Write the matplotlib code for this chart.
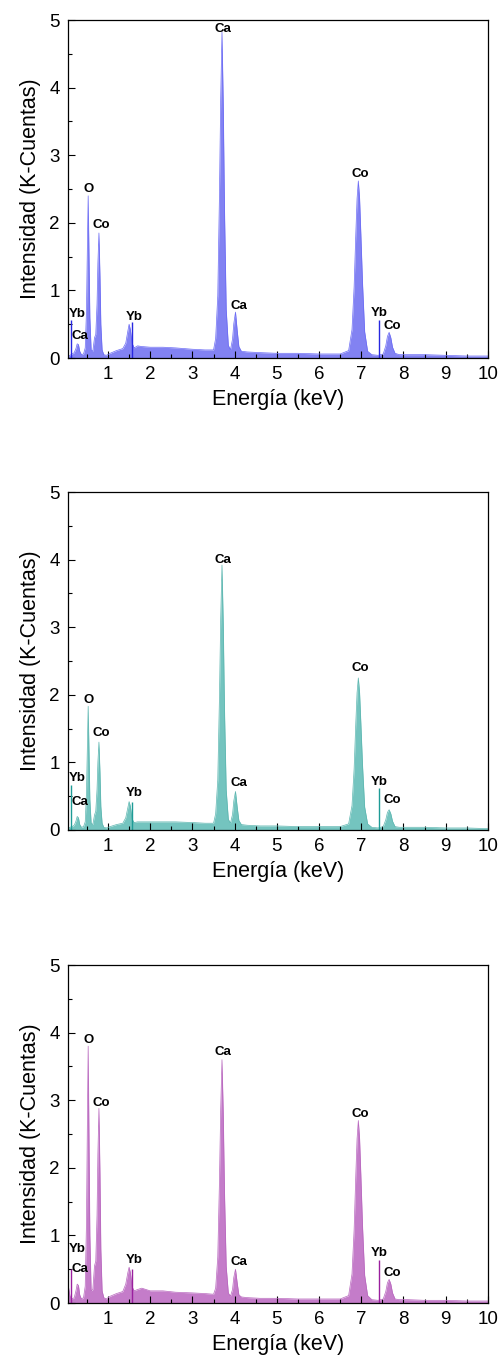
import matplotlib
matplotlib.use('Agg')
import matplotlib.pyplot as plt
from matplotlib.ticker import MultipleLocator

plt.rcParams['font.family'] = ['Liberation Sans', 'DejaVu Sans']

# energy grid (keV), shared by the three spectra
energy = [0.06, 0.10, 0.15, 0.20, 0.24, 0.27, 0.30, 0.33, 0.37, 0.42,
          0.46, 0.49, 0.51, 0.53, 0.55, 0.57, 0.60, 0.64, 0.68, 0.71,
          0.74, 0.76, 0.785, 0.81, 0.83, 0.86, 0.90, 0.96, 1.05, 1.20,
          1.35, 1.42, 1.47, 1.50, 1.53, 1.57, 1.62, 1.70, 1.80, 2.00,
          2.30, 2.60, 3.00, 3.30, 3.50, 3.55, 3.60, 3.64, 3.67, 3.70,
          3.73, 3.76, 3.80, 3.85, 3.90, 3.95, 3.98, 4.02, 4.06, 4.10,
          4.16, 4.30, 4.60, 5.00, 5.50, 6.00, 6.50, 6.70, 6.78, 6.83,
          6.87, 6.90, 6.93, 6.96, 6.99, 7.03, 7.08, 7.15, 7.25, 7.40,
          7.52, 7.58, 7.62, 7.66, 7.70, 7.74, 7.80, 7.90, 8.10, 8.50,
          9.00, 9.50, 10.00]

# intensity, K-counts
counts_a = [0.03, 0.04, 0.06, 0.08, 0.14, 0.21, 0.20, 0.10, 0.05, 0.06,
            0.15, 0.70, 1.60, 2.40, 1.50, 0.60, 0.12, 0.10, 0.30, 0.35,
            0.80, 1.40, 1.85, 1.20, 0.50, 0.12, 0.05, 0.04, 0.07, 0.11,
            0.14, 0.22, 0.40, 0.50, 0.42, 0.22, 0.15, 0.18, 0.17, 0.16,
            0.16, 0.15, 0.13, 0.12, 0.12, 0.29, 0.92, 2.41, 3.86, 4.82,
            3.76, 2.17, 0.72, 0.19, 0.12, 0.28, 0.51, 0.68, 0.41, 0.17,
            0.10, 0.09, 0.08, 0.07, 0.07, 0.06, 0.06, 0.11, 0.42, 1.05,
            1.83, 2.36, 2.62, 2.36, 1.83, 1.10, 0.39, 0.10, 0.05, 0.04,
            0.06, 0.18, 0.32, 0.38, 0.30, 0.16, 0.07, 0.05, 0.05, 0.05,
            0.04, 0.03, 0.03]

counts_b = [0.03, 0.04, 0.05, 0.07, 0.13, 0.20, 0.18, 0.08, 0.04, 0.05,
            0.12, 0.55, 1.20, 1.83, 1.15, 0.45, 0.10, 0.08, 0.22, 0.28,
            0.60, 1.00, 1.30, 0.85, 0.35, 0.10, 0.04, 0.03, 0.05, 0.08,
            0.10, 0.18, 0.33, 0.42, 0.35, 0.16, 0.11, 0.12, 0.12, 0.12,
            0.12, 0.12, 0.11, 0.10, 0.10, 0.24, 0.74, 1.96, 3.14, 3.92,
            3.06, 1.76, 0.59, 0.16, 0.10, 0.23, 0.43, 0.57, 0.34, 0.14,
            0.08, 0.07, 0.06, 0.06, 0.05, 0.05, 0.05, 0.09, 0.36, 0.90,
            1.58, 2.03, 2.25, 2.03, 1.58, 0.95, 0.34, 0.09, 0.04, 0.03,
            0.05, 0.15, 0.26, 0.30, 0.24, 0.13, 0.05, 0.04, 0.04, 0.04,
            0.03, 0.03, 0.02]

counts_c = [0.25, 0.10, 0.06, 0.08, 0.18, 0.28, 0.26, 0.12, 0.06, 0.08,
            0.25, 1.20, 2.60, 3.80, 2.40, 1.00, 0.18, 0.20, 0.55, 0.62,
            1.30, 2.20, 2.88, 1.90, 0.80, 0.18, 0.08, 0.06, 0.10, 0.14,
            0.17, 0.28, 0.45, 0.53, 0.45, 0.24, 0.18, 0.20, 0.22, 0.18,
            0.18, 0.16, 0.15, 0.14, 0.13, 0.22, 0.68, 1.80, 2.88, 3.60,
            2.81, 1.62, 0.54, 0.15, 0.10, 0.20, 0.38, 0.50, 0.30, 0.12,
            0.09, 0.08, 0.07, 0.07, 0.06, 0.06, 0.06, 0.11, 0.43, 1.08,
            1.89, 2.43, 2.70, 2.43, 1.89, 1.13, 0.41, 0.11, 0.05, 0.04,
            0.06, 0.17, 0.30, 0.35, 0.28, 0.15, 0.06, 0.05, 0.05, 0.04,
            0.04, 0.03, 0.03]

# Yb marker lines: energy, height
yb_energy = [0.13, 1.58, 7.42]
yb_height_a = [0.56, 0.53, 0.57]
yb_height_b = [0.67, 0.42, 0.62]
yb_height_c = [0.50, 0.50, 0.64]

# peak labels
peak_names = ['Yb', 'Ca', 'O', 'Co', 'Yb', 'Ca', 'Ca', 'Co', 'Yb', 'Co']
label_x = [0.26, 0.34, 0.55, 0.83, 1.62, 3.72, 4.09, 6.97, 7.43, 7.74]
label_y_a = [0.65, 0.33, 2.50, 1.97, 0.61, 4.87, 0.77, 2.72, 0.66, 0.47]
label_y_b = [0.77, 0.41, 1.93, 1.44, 0.55, 4.00, 0.70, 2.39, 0.71, 0.44]
label_y_c = [0.80, 0.50, 3.89, 2.96, 0.63, 3.72, 0.60, 2.80, 0.74, 0.44]

panels = [
    (counts_a, yb_height_a, label_y_a, '#8282f2', '#6a6af5', '#2828e0'),
    (counts_b, yb_height_b, label_y_b, '#74c4bf', '#5cb6b0', '#1e9b96'),
    (counts_c, yb_height_c, label_y_c, '#c47cc9', '#b866be', '#9a1f9e'),
]
bottoms = [0.7379, 0.3924, 0.0461]

fig = plt.figure(figsize=(5.03, 13.66), dpi=100)

for (counts, yb_h, lab_y, fill_c, line_c, mark_c), bot in zip(panels, bottoms):
    ax = fig.add_axes([0.135, bot, 0.835, 0.2474])
    ax.fill_between(energy, 0, counts, color=fill_c, lw=0)
    ax.plot(energy, counts, color=line_c, lw=0.5)
    ax.vlines(yb_energy, 0, yb_h, color=mark_c, lw=1.0)
    for name, x, y in zip(peak_names, label_x, lab_y):
        ax.text(x, y, name, ha='center', va='center', fontsize=9.5,
                fontweight='bold', color='black')

    ax.set_xlim(0.05, 10)
    ax.set_ylim(0, 5)
    ax.xaxis.set_major_locator(MultipleLocator(1))
    ax.xaxis.set_minor_locator(MultipleLocator(0.5))
    ax.yaxis.set_major_locator(MultipleLocator(1))
    ax.yaxis.set_minor_locator(MultipleLocator(0.5))
    ax.tick_params(which='both', direction='in', top=False, right=False,
                   labelsize=13.5, width=0.8, pad=6)
    ax.tick_params(which='major', length=5)
    ax.tick_params(which='minor', length=3)
    for s in ax.spines.values():
        s.set_linewidth(0.9)
    ax.set_xlabel('Energía (keV)', fontsize=15.5, labelpad=4)
    ax.set_ylabel('Intensidad (K-Cuentas)', fontsize=15.5, labelpad=6)

fig.savefig('out.png', dpi=100)
